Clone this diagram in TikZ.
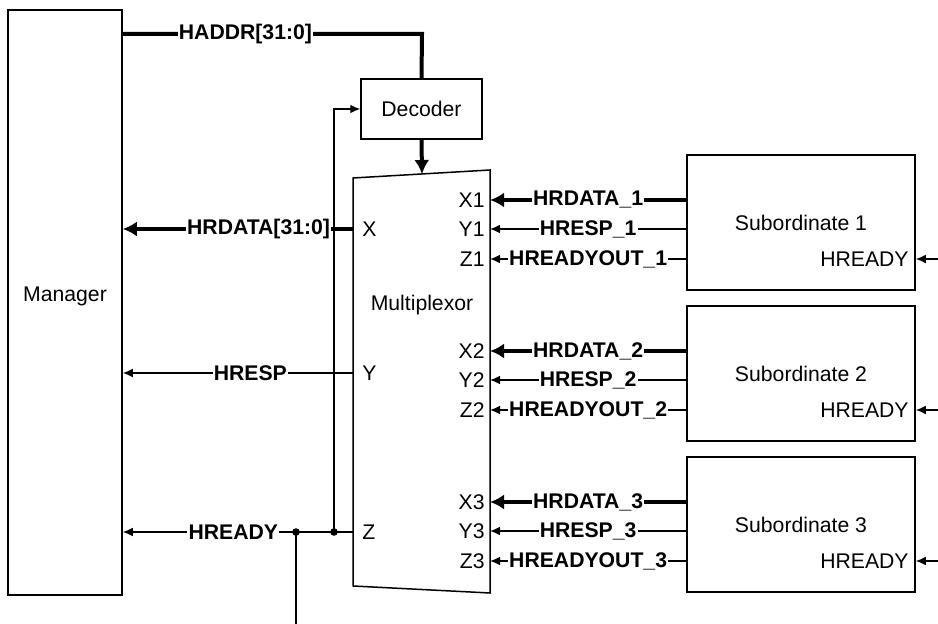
\documentclass[tikz,border=0pt]{standalone}
\usepackage{fontspec}
\setmainfont{Liberation Sans}
\usetikzlibrary{arrows.meta}

\tikzset{
  blk/.style={draw, line width=0.75pt, inner sep=0pt},
  wire/.style={line width=0.7pt, >={Latex[length=5pt,width=4.4pt]}},
  bus/.style={line width=2pt, >={Latex[length=7pt,width=7.5pt]}},
  lbl/.style={fill=white, font=\fontsize{10.6}{12}\selectfont\bfseries, inner sep=0.6pt},
  port/.style={inner sep=0pt},
  dot/.style={fill, circle, inner sep=0pt, minimum size=3.8pt}
}

\begin{document}
\begin{tikzpicture}[x=0.5pt, y=-0.5pt, font=\fontsize{10.6}{12}\selectfont]
    \useasboundingbox (0,0) rectangle (938,624);

    % boxes
    \node[blk, minimum width=57pt, minimum height=292.5pt] (manager) at (65,302.5) {};
    \node (mgrtxt) at (65,296) {Manager};
    \node[blk, minimum width=60.5pt, minimum height=30pt] (decoder) at (421.5,109) {Decoder};
    \draw[line width=0.75pt] (353,178) -- (490,170) -- (490,593) -- (353,586) -- cycle;
    \node (mux) at (422,305) {Multiplexor};

    % multiplexor ports, left side
    \coordinate (mX) at (353,229);
    \coordinate (mY) at (353,373);
    \coordinate (mZ) at (353,532);
    \coordinate (mtop) at (422,174);
    \node[port, anchor=west] (lX) at (362,229) {X};
    \node[port, anchor=west] (lY) at (362,373) {Y};
    \node[port, anchor=west] (lZ) at (362,532) {Z};

    % manager side
    \draw[bus] (manager.east |- 0,34) -- node[lbl, pos=0.41] {HADDR[31:0]} (422,34) -- (decoder.north);
    \draw[bus, ->] (decoder.south) -- (mtop);
    \draw[bus, ->] (mX) -- node[lbl, pos=0.41] {HRDATA[31:0]\ } (manager.east |- mX);
    \draw[wire, ->] (mY) -- node[lbl, pos=0.446] {HRESP} (manager.east |- mY);
    \draw[wire, ->] (mZ) -- node[lbl, pos=0.52] {HREADY} (manager.east |- mZ);

    \coordinate (j1) at (334,532);
    \coordinate (j2) at (296,532);
    \coordinate (j2end) at (296,624);
    \draw[wire, ->] (j1) -- (j1 |- decoder.west) -- (decoder.west);
    \draw[wire] (j2) -- (j2end);
    \node[dot] at (j1) {};
    \node[dot] at (j2) {};

    % subordinates
    \foreach \i/\t in {1/155, 2/306, 3/457}{
        \node[blk, minimum width=114pt, minimum height=67.5pt] (sub\i) at (801,\t+67.5) {Subordinate \i};
        \coordinate (x\i) at (490,\t+45);
        \coordinate (y\i) at (490,\t+74);
        \coordinate (z\i) at (490,\t+104);
        \coordinate (in\i) at (938,\t+104);
        \node[port, anchor=east] at (485,\t+45) {X\i};
        \node[port, anchor=east] at (485,\t+74) {Y\i};
        \node[port, anchor=east] at (485,\t+104) {Z\i};
        \node[port, anchor=east] at (909,\t+104) {HREADY};
        \draw[bus, ->] (sub\i.west |- x\i) -- node[lbl] {HRDATA\_\i\ } (x\i);
        \draw[wire, ->] (sub\i.west |- y\i) -- node[lbl] {HRESP\_\i} (y\i);
        \draw[wire, ->] (sub\i.west |- z\i) -- node[lbl] {HREADYOUT\_\i} (z\i);
        \draw[wire, ->] (in\i) -- (sub\i.east |- in\i);
    }
\end{tikzpicture}
\end{document}
